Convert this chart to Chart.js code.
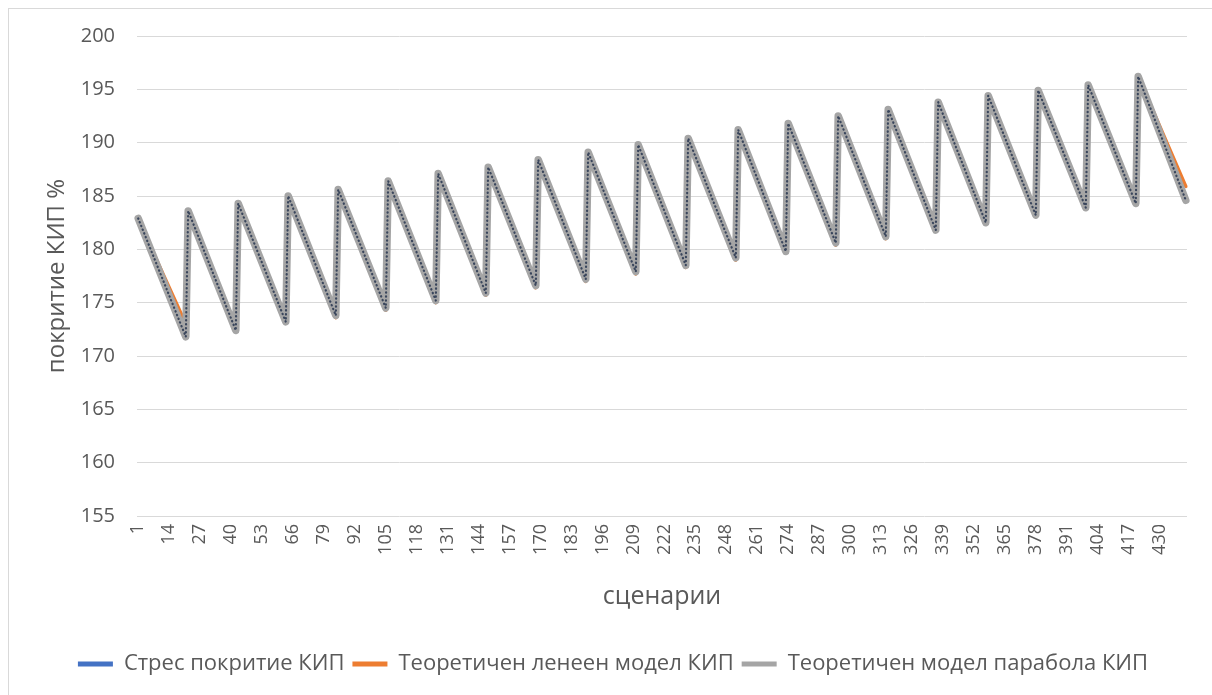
<!DOCTYPE html>
<html lang="bg">
<head>
<meta charset="utf-8">
<title>покритие КИП</title>
<script src="https://cdn.jsdelivr.net/npm/chart.js@4.4.1/dist/chart.umd.min.js"></script>
<style>
  html, body { margin: 0; padding: 0; background: #fff; overflow: hidden; }
  #wrap { position: relative; width: 1212px; height: 695px; }
  #frame { position: absolute; left: 8px; top: 8px; width: 1300px; height: 800px; border: 1px solid #d9d9d9; box-sizing: border-box; pointer-events: none; }
  canvas { display: block; }
</style>
</head>
<body>
<div id="wrap">
  <canvas id="chart" width="1212" height="695"></canvas>
  <div id="frame"></div>
</div>
<script>
// scenarios 1..441, 21 cycles of 21 scenarios each
const scenarioCount = 441;
const cycleLength = 21;
const scenarios = [];
for (let i = 1; i <= scenarioCount; i++) scenarios.push(String(i));

const xTickLabels = ['1', '14', '27', '40', '53', '66', '79', '92', '105', '118', '131', '144',
  '157', '170', '183', '196', '209', '222', '235', '248', '261', '274', '287', '300', '313',
  '326', '339', '352', '365', '378', '391', '404', '417', '430'];
const yTicks = [155, 160, 165, 170, 175, 180, 185, 190, 195, 200];

const seriesNames = ['Стрес покритие КИП', 'Теоретичен ленеен модел КИП', 'Теоретичен модел парабола КИП'];
const legendColors = ['#4472C4', '#ED7D31', '#A5A5A5'];

// value at the first and last scenario of every cycle
const stressPeaks = [182.9, 183.6, 184.3, 185.0, 185.6, 186.4, 187.1, 187.7, 188.4, 189.1, 189.8,
  190.4, 191.2, 191.8, 192.5, 193.1, 193.8, 194.4, 194.9, 195.4, 196.2];
const stressDips = [171.8, 172.4, 173.2, 173.8, 174.5, 175.2, 175.9, 176.6, 177.2, 177.9, 178.5,
  179.2, 179.8, 180.6, 181.2, 181.8, 182.5, 183.2, 183.9, 184.3, 184.6];

const linearPeaks = [182.8, 183.5, 184.2, 184.9, 185.6, 186.3, 187.0, 187.7, 188.4, 189.1, 189.7,
  190.4, 191.1, 191.8, 192.5, 193.1, 193.8, 194.4, 195.0, 195.5, 196.2];
const linearDips = [173.0, 172.6, 173.1, 173.6, 174.3, 175.0, 175.7, 176.4, 177.0, 177.7, 178.3,
  179.0, 179.7, 180.4, 181.0, 181.7, 182.4, 183.1, 183.8, 184.4, 185.9];

const parabolaPeaks = [182.9, 183.6, 184.3, 185.0, 185.6, 186.4, 187.1, 187.7, 188.4, 189.1, 189.8,
  190.4, 191.2, 191.8, 192.5, 193.1, 193.8, 194.4, 194.9, 195.4, 196.2];
const parabolaDips = [171.8, 172.4, 173.2, 173.8, 174.5, 175.2, 175.9, 176.6, 177.2, 177.9, 178.5,
  179.2, 179.8, 180.6, 181.2, 181.8, 182.5, 183.2, 183.9, 184.3, 184.6];

function cyclePoints(peaks, dips) {
  const pts = [];
  peaks.forEach((p, k) => {
    pts.push({ x: scenarios[k * cycleLength], y: p });
    pts.push({ x: scenarios[k * cycleLength + cycleLength - 1], y: dips[k] });
  });
  return pts;
}

const textColor = '#595959';
const gridColor = '#d9d9d9';

new Chart(document.getElementById('chart'), {
  type: 'line',
  data: {
    labels: scenarios,
    datasets: [
      {
        label: seriesNames[0],
        data: cyclePoints(stressPeaks, stressDips),
        borderColor: '#3a465c',
        borderWidth: 2.2,
        borderDash: [0.4, 3.6],
        borderJoinStyle: 'round',
        borderCapStyle: 'round',
        pointRadius: 0,
        order: 0
      },
      {
        label: seriesNames[1],
        data: cyclePoints(linearPeaks, linearDips),
        borderColor: legendColors[1],
        borderWidth: 3.5,
        borderJoinStyle: 'round',
        borderCapStyle: 'round',
        pointRadius: 0,
        order: 2
      },
      {
        label: seriesNames[2],
        data: cyclePoints(parabolaPeaks, parabolaDips),
        borderColor: legendColors[2],
        borderWidth: 7.5,
        borderJoinStyle: 'round',
        borderCapStyle: 'round',
        pointRadius: 0,
        order: 1
      }
    ]
  },
  options: {
    responsive: false,
    animation: false,
    layout: { padding: { top: 36, right: 0, bottom: 10, left: 14 } },
    plugins: {
      tooltip: { enabled: false },
      legend: {
        position: 'bottom',
        labels: {
          boxWidth: 35,
          boxHeight: 5,
          padding: 8,
          color: textColor,
          font: { family: 'Open Sans', size: 22 },
          generateLabels: chart => chart.data.datasets.map((ds, i) => ({
            text: ds.label,
            fillStyle: legendColors[i],
            strokeStyle: legendColors[i],
            lineWidth: 0,
            fontColor: textColor,
            hidden: !chart.isDatasetVisible(i),
            datasetIndex: i
          }))
        }
      }
    },
    scales: {
      x: {
        type: 'category',
        offset: true,
        grid: { display: false, drawTicks: false },
        border: { display: false },
        ticks: {
          autoSkip: false,
          minRotation: 90,
          maxRotation: 90,
          padding: 8,
          color: textColor,
          font: { family: 'Open Sans', size: 18 },
          callback: function (value) {
            const lab = this.getLabelForValue(value);
            return xTickLabels.includes(lab) ? lab : null;
          }
        },
        title: {
          display: true,
          text: 'сценарии',
          color: textColor,
          font: { family: 'Open Sans', size: 25 },
          padding: { top: 4, bottom: 33 }
        },
        afterFit: scale => { scale.height = 129; }
      },
      y: {
        min: 155,
        max: 200,
        grid: { color: gridColor, lineWidth: 1, drawTicks: false },
        border: { display: false },
        afterBuildTicks: scale => { scale.ticks = yTicks.map(v => ({ value: v })); },
        ticks: {
          padding: 22,
          color: textColor,
          font: { family: 'Open Sans', size: 20 }
        },
        title: {
          display: true,
          text: 'покритие КИП %',
          color: textColor,
          font: { family: 'Open Sans', size: 24 },
          padding: { top: 29, bottom: 0 }
        },
        afterFit: scale => { scale.width = 123; }
      },
      // empty right margin so the plot ends where the reference plot ends
      spacer: {
        type: 'linear',
        position: 'right',
        grid: { display: false, drawTicks: false },
        border: { display: false },
        ticks: { display: false },
        afterFit: scale => { scale.width = 25; }
      }
    }
  }
});
</script>
</body>
</html>
